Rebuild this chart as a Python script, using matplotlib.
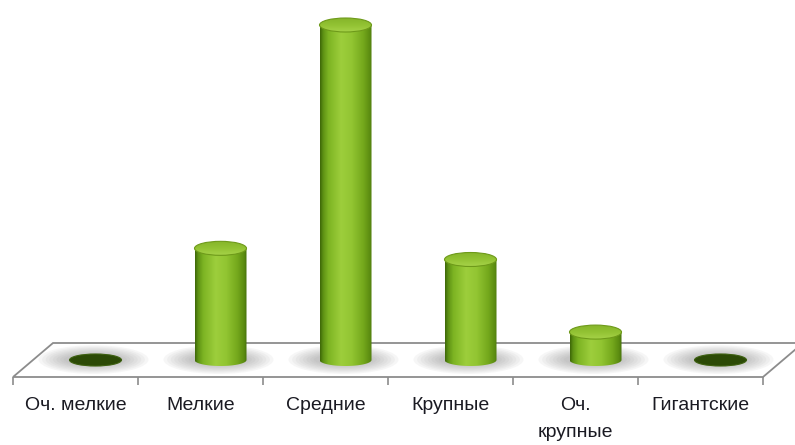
import numpy as np
import matplotlib
matplotlib.use('Agg')
from matplotlib import pyplot as plt
from matplotlib.patches import Ellipse, Polygon
from matplotlib.colors import LinearSegmentedColormap

categories = ['Оч. мелкие', 'Мелкие', 'Средние', 'Крупные', 'Оч.\nкрупные', 'Гигантские']
values = [0, 20, 60, 18, 5, 0]

W, H = 795, 445
fig = plt.figure(figsize=(W / 100, H / 100), dpi=100)
ax = fig.add_axes([13 / W, (H - 377) / H, 750 / W, 377 / H])

n = len(categories)
ux = n / 750          # data units per pixel (x)
uy = 60 / 335         # data units per pixel (y)
ymin, ymax = -17 * uy, 360 * uy
dx, dy = 40 * ux, 34 * uy   # floor depth

# floor slab
floor = Polygon([(-0.5, ymin), (n - 0.5, ymin), (n - 0.5 + dx, ymin + dy),
                 (-0.5 + dx, ymin + dy)], closed=True, facecolor='white',
                edgecolor='#8c8c8c', lw=1.3, clip_on=False, zorder=1)
ax.add_patch(floor)

body_cmap = LinearSegmentedColormap.from_list('body', [
    (0.0, '#3d6608'), (0.06, '#5e9214'), (0.16, '#7db423'), (0.4, '#9dce3c'),
    (0.6, '#92c532'), (0.82, '#74a81c'), (0.95, '#5a8a10'), (1.0, '#446e0a')])
cap_cmap = LinearSegmentedColormap.from_list('cap', ['#a6d248', '#92c233', '#86b52a'])
grad_h = np.linspace(0, 1, 256).reshape(1, -1)
grad_v = np.linspace(0, 1, 256).reshape(-1, 1)

hw = 26 * ux
eh = 12 * uy     # bottom ellipse height
ch = 14 * uy     # top cap height
for i, v in enumerate(values):
    xc = i + dx / 2
    # soft shadow on the floor
    for k in range(8):
        s = 1.0 + 0.12 * k
        ax.add_patch(Ellipse((xc - 2 * ux, 0.4 * uy), 2 * hw * s * 1.15, eh * (1 + 0.2 * k),
                             facecolor='#606060', edgecolor='none', alpha=0.05,
                             zorder=2, clip_on=False))
    if v <= 0:
        ax.add_patch(Ellipse((xc, 0), 2 * hw, eh, facecolor='#2c4a06',
                             edgecolor='#3d6010', lw=0.8, zorder=3))
        continue
    t = np.linspace(np.pi, 2 * np.pi, 60)
    pts = [(xc - hw, v)] + [(xc + hw * np.cos(a), eh / 2 * np.sin(a)) for a in t] + [(xc + hw, v)]
    body = Polygon(pts, closed=True, facecolor='none', edgecolor='none', zorder=3)
    ax.add_patch(body)
    im = ax.imshow(grad_h, extent=[xc - hw, xc + hw, -eh, v], cmap=body_cmap,
                   aspect='auto', origin='lower', zorder=3, interpolation='bilinear')
    im.set_clip_path(body)
    cap = Ellipse((xc, v), 2 * hw, ch, facecolor='none', edgecolor='#6e9a1a', lw=0.8, zorder=5)
    ax.add_patch(cap)
    im2 = ax.imshow(grad_v, extent=[xc - hw, xc + hw, v - ch / 2, v + ch / 2], cmap=cap_cmap,
                    aspect='auto', origin='lower', zorder=4, interpolation='bilinear')
    im2.set_clip_path(cap)

ax.set_xlim(-0.5, n - 0.5)
ax.set_ylim(ymin, ymax)

ax.set_xticks(np.arange(n + 1) - 0.5)
ax.set_xticklabels([])
ax.set_xticks(np.arange(n), minor=True)
labels = ax.set_xticklabels(categories, minor=True, fontsize=14,
                            family=['Liberation Sans Narrow', 'Liberation Sans', 'DejaVu Sans'],
                            color='#1a1a22')
for lb in labels:
    lb.set_linespacing(1.75)
ax.tick_params(axis='x', which='major', length=6, width=1.2, color='#8c8c8c', direction='out')
ax.tick_params(axis='x', which='minor', length=0, pad=14.5)
ax.set_yticks([])
for sp in ax.spines.values():
    sp.set_visible(False)

fig.savefig('out.png', dpi=100)
